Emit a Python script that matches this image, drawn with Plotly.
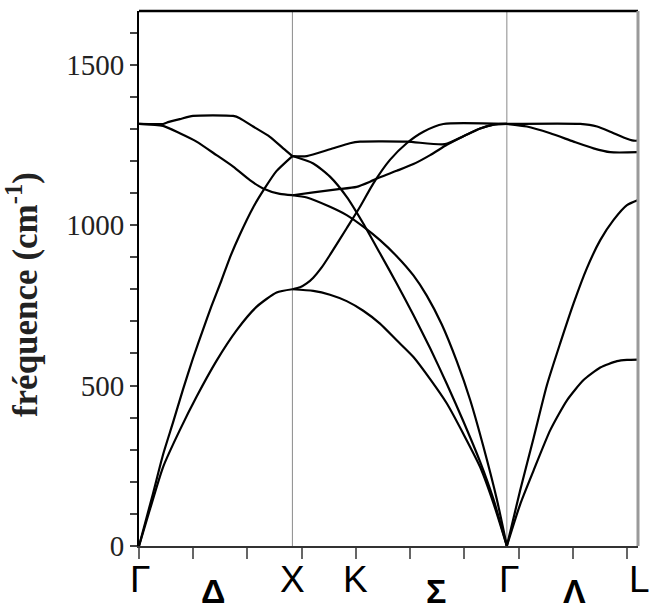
import plotly.graph_objects as go

# ---- path coordinates (Γ=0, X=1, K, Γ, L) ----
SYM_POS = [0.0, 1.0, 1.414, 2.398, 3.253]
VLINE_POS = [1.0, 2.398]
LABELS = ["Γ", "Δ", "X", "K", "Σ", "Γ", "Λ", "L"]
LABEL_POS = [0.0, 0.482, 1.0, 1.414, 1.937, 2.398, 2.840, 3.253]
LABEL_SHIFT = [1, 0, 0, 0, 0, 2, 0, 1]
LABEL_GREEK_LOW = [False, True, False, False, True, False, True, False]
XTICKS = [0.0, 0.354, 0.707, 1.061, 1.414, 1.768, 2.121, 2.475, 2.828, 3.182]
YTICKS = [0, 500, 1000, 1500]
YMINOR = [100, 200, 300, 400, 600, 700, 800, 900, 1100, 1200, 1300, 1400, 1600]

# ---- Γ–X branches ----
GX_LO_Q = [0, 0.157, 0.179, 0.266, 0.352, 0.482, 0.614, 0.657, 0.744, 0.853, 0.940, 1.0]
GX_LO_V = [1315, 1315, 1319, 1330, 1340, 1342, 1340, 1333, 1307, 1275, 1239, 1215]
GX_TO_Q = [0, 0.157, 0.266, 0.375, 0.505, 0.614, 0.723, 0.809, 0.918, 1.0]
GX_TO_V = [1315, 1309, 1286, 1260, 1218, 1182, 1140, 1114, 1097, 1093]
GX_LA_Q = [0, 0.091, 0.157, 0.222, 0.287, 0.352, 0.418, 0.473, 0.538, 0.592, 0.657, 0.744, 0.820, 0.896, 1.0]
GX_LA_V = [0, 163, 285, 385, 488, 585, 675, 748, 828, 898, 970, 1055, 1115, 1168, 1215]
GX_TA_Q = [0, 0.070, 0.157, 0.266, 0.375, 0.505, 0.636, 0.766, 0.897, 1.0]
GX_TA_V = [0, 112, 246, 361, 465, 577, 672, 745, 790, 800]

# ---- X–K–Γ branches ----
XG_B1_Q = [1.0, 1.136, 1.245, 1.354, 1.462, 1.571, 1.680, 1.789, 1.898, 2.007, 2.115, 2.224, 2.311, 2.398]
XG_B1_V = [800, 795, 783, 763, 733, 693, 641, 589, 520, 444, 349, 246, 133, 0]
XG_B2_Q = [1.0, 1.094, 1.245, 1.354, 1.462, 1.571, 1.680, 1.789, 1.876, 1.974, 2.072, 2.159, 2.245, 2.333, 2.398]
XG_B2_V = [1093, 1086, 1057, 1031, 995, 953, 903, 843, 780, 690, 575, 455, 310, 145, 0]
XG_B3_Q = [1.0, 1.136, 1.245, 1.354, 1.462, 1.571, 1.680, 1.789, 1.898, 2.007, 2.115, 2.224, 2.311, 2.398]
XG_B3_V = [1215, 1192, 1151, 1088, 1005, 912, 818, 720, 616, 505, 388, 262, 145, 0]
XG_B4_Q = [1.0, 1.050, 1.093, 1.136, 1.191, 1.245, 1.354, 1.441, 1.528, 1.636, 1.745, 1.854, 1.984, 2.398]
XG_B4_V = [800, 806, 818, 836, 868, 907, 990, 1057, 1130, 1203, 1255, 1291, 1315, 1315]
XG_B5_Q = [1.0, 1.137, 1.289, 1.419, 1.506, 1.571, 1.680, 1.789, 1.898, 2.007, 2.115, 2.224, 2.311, 2.398]
XG_B5_V = [1093, 1102, 1111, 1119, 1135, 1149, 1169, 1190, 1218, 1250, 1277, 1301, 1313, 1315]
XG_B6_Q = [1.0, 1.094, 1.245, 1.375, 1.441, 1.745, 1.995, 2.115, 2.224, 2.311, 2.398]
XG_B6_V = [1215, 1215, 1236, 1255, 1260, 1260, 1252, 1277, 1301, 1313, 1315]

# ---- Γ–L branches ----
GL_LO_Q = [2.398, 2.877, 2.986, 3.072, 3.159, 3.225, 3.253]
GL_LO_V = [1315, 1315, 1307, 1291, 1273, 1263, 1263]
GL_TO_Q = [2.398, 2.529, 2.681, 2.833, 2.963, 3.072, 3.253]
GL_TO_V = [1315, 1307, 1286, 1260, 1239, 1227, 1227]
GL_LA_Q = [2.398, 2.485, 2.572, 2.659, 2.746, 2.833, 2.920, 3.007, 3.094, 3.181, 3.253]
GL_LA_V = [0, 174, 336, 501, 632, 756, 866, 953, 1016, 1062, 1078]
GL_TA_Q = [2.398, 2.485, 2.572, 2.681, 2.790, 2.898, 3.007, 3.116, 3.181, 3.253]
GL_TA_V = [0, 130, 235, 361, 454, 517, 556, 576, 580, 581]

BRANCHES = [
    (GX_LO_Q, GX_LO_V), (GX_TO_Q, GX_TO_V), (GX_LA_Q, GX_LA_V), (GX_TA_Q, GX_TA_V),
    (XG_B1_Q, XG_B1_V), (XG_B2_Q, XG_B2_V), (XG_B3_Q, XG_B3_V),
    (XG_B4_Q, XG_B4_V), (XG_B5_Q, XG_B5_V), (XG_B6_Q, XG_B6_V),
    (GL_LO_Q, GL_LO_V), (GL_TO_Q, GL_TO_V), (GL_LA_Q, GL_LA_V), (GL_TA_Q, GL_TA_V),
]

fig = go.Figure()
for q, v in BRANCHES:
    fig.add_trace(go.Scatter(x=q, y=v, mode="lines",
                             line=dict(color="black", width=2.2, shape="spline", smoothing=0.6),
                             hoverinfo="skip"))

for xv in VLINE_POS:
    fig.add_shape(type="line", xref="x", yref="paper", x0=xv, x1=xv, y0=0, y1=1,
                  line=dict(color="#8a8a8a", width=1), layer="below")

# frame: top black, right gray
fig.add_shape(type="line", xref="paper", yref="paper", x0=0, x1=1, y0=1, y1=1,
              line=dict(color="black", width=2.5))
fig.add_shape(type="line", xref="paper", yref="paper", x0=1, x1=1, y0=0, y1=1,
              line=dict(color="#9a9a9a", width=3))

for lab, pos, sh, low in zip(LABELS, LABEL_POS, LABEL_SHIFT, LABEL_GREEK_LOW):
    fig.add_annotation(x=pos, y=0, xref="x", yref="paper",
                       text=f"<b>{lab}</b>" if low else lab, showarrow=False,
                       xanchor="center", yanchor="middle", xshift=sh,
                       yshift=-45 if low else -33,
                       font=dict(family="Liberation Sans", size=34 if low else 37,
                                 color="black"))

fig.add_annotation(x=0, y=0.469, xref="paper", yref="paper",
                   text="<b>fréquence (cm<sup>-1</sup>)</b>", showarrow=False,
                   textangle=-90, xanchor="center", yanchor="middle", xshift=-117,
                   font=dict(family="Liberation Serif", size=35, color="#222"))

fig.update_layout(
    width=649, height=613,
    margin=dict(l=139, r=11, t=11, b=67),
    plot_bgcolor="white", paper_bgcolor="white", showlegend=False,
    xaxis=dict(range=[SYM_POS[0], SYM_POS[-1]], showgrid=False, zeroline=False,
               showline=True, linecolor="#333", linewidth=2,
               ticks="outside", tickvals=XTICKS, ticklen=11, tickwidth=1.5,
               tickcolor="#666", showticklabels=False),
    yaxis=dict(range=[0, 1667], showgrid=False, zeroline=False,
               showline=True, linecolor="black", linewidth=2,
               ticks="outside", tickvals=YTICKS, ticktext=[str(t) for t in YTICKS],
               ticklen=7, tickwidth=1.5, tickcolor="#444",
               tickfont=dict(family="Liberation Serif", size=29, color="#222"),
               minor=dict(tickvals=YMINOR, ticks="outside", ticklen=7,
                          tickwidth=1.5, tickcolor="#444")),
)

fig.write_html("out.html", config={"displayModeBar": False},
               post_script="document.body.style.margin='0px';document.body.style.overflow='hidden';")
